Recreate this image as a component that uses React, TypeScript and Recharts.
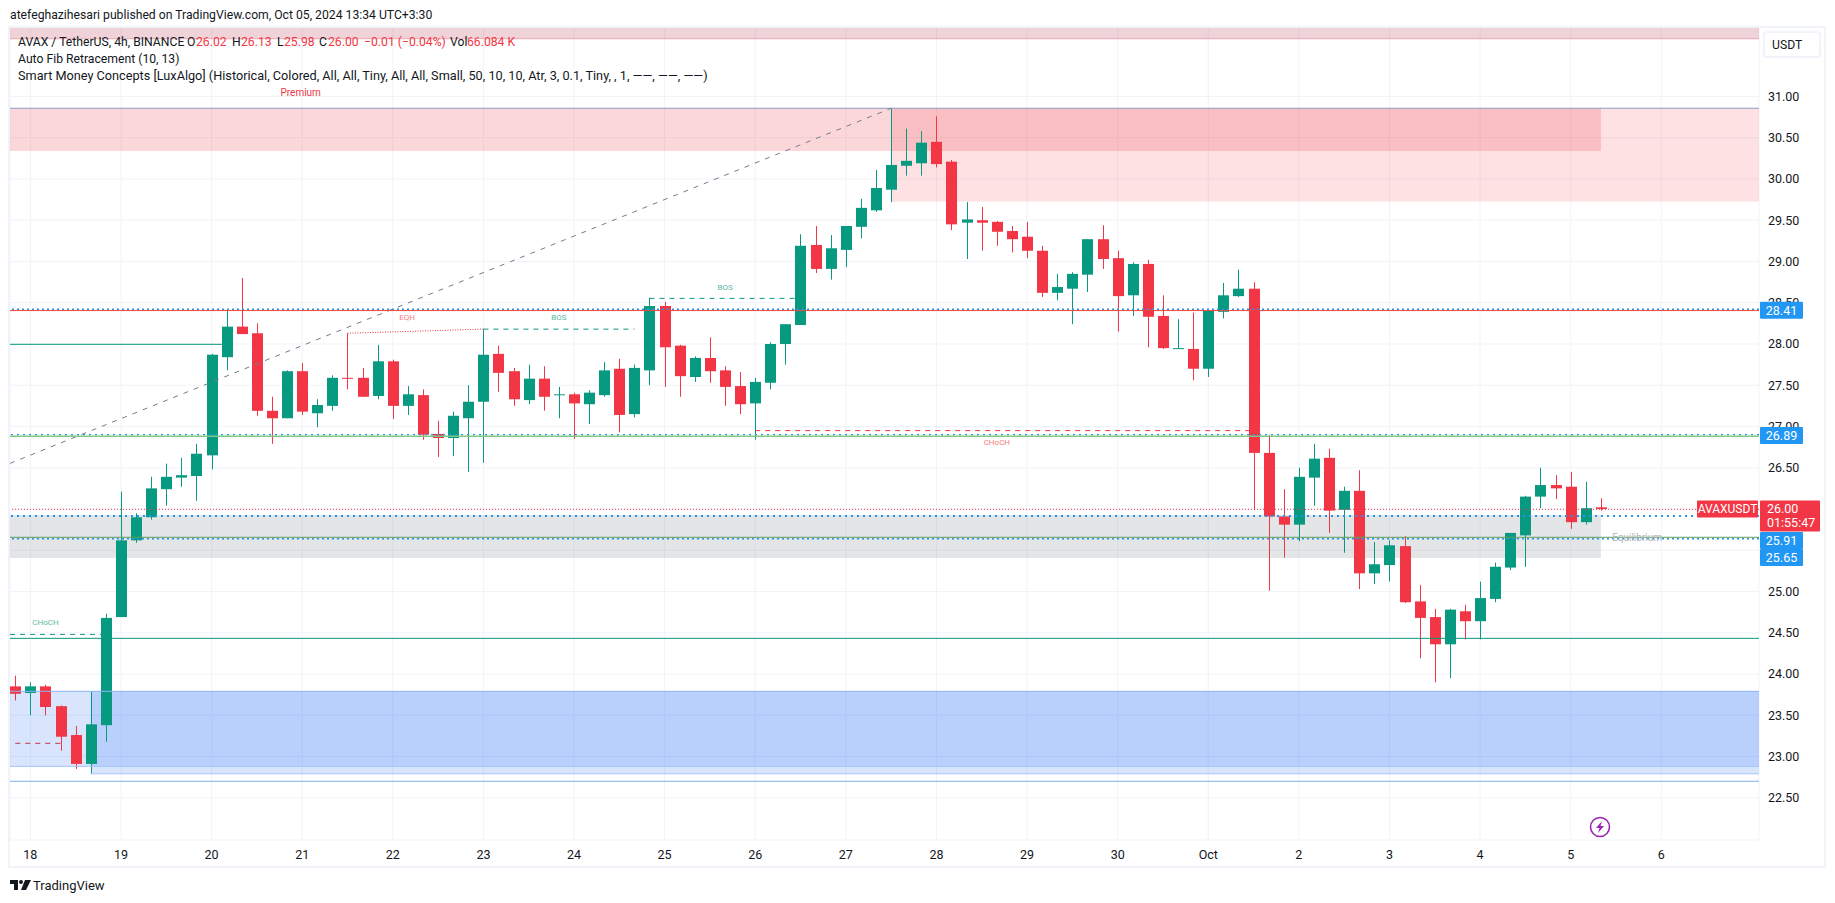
import {
  ComposedChart,
  Bar,
  XAxis,
  YAxis,
  CartesianGrid,
  ReferenceLine,
  ReferenceArea,
  ReferenceDot,
} from "recharts"

// one entry per 4h candle, the first one sits at bar -1 (17 Sep, 20:00)
const opens = [
  23.85, 23.77, 23.85, 23.61, 23.26, 22.91, 23.38, 24.69, 25.62, 25.9, 26.24, 26.38, 26.4, 26.65, 27.84, 28.21, 28.13, 27.19,
  27.1, 27.67, 27.16, 27.25, 27.59, 27.59, 27.37, 27.79, 27.25, 27.38, 26.91, 26.86, 27.1, 27.3, 27.88, 27.67, 27.32, 27.58,
  27.38, 27.39, 27.27, 27.38, 27.7, 27.15, 27.68, 28.46, 27.98, 27.6, 27.83, 27.68, 27.49, 27.28, 27.53, 28.0, 28.23, 29.2,
  28.91, 29.14, 29.42, 29.62, 29.87, 30.16, 30.19, 30.45, 30.21, 29.47, 29.5, 29.48, 29.37, 29.3, 29.13, 28.62, 28.67, 28.84,
  29.27, 29.04, 28.59, 28.97, 28.34, 27.94, 27.94, 27.7, 28.39, 28.58, 28.67, 26.68, 25.91, 25.81, 26.38, 26.62, 25.99, 26.22,
  25.22, 25.32, 25.55, 24.88, 24.69, 24.36, 24.76, 24.64, 24.91, 25.29, 25.68, 26.15, 26.29, 26.27, 25.84, 26.02,
]
const highs = [
  23.98, 23.9, 23.87, 23.62, 23.37, 23.79, 24.73, 26.21, 25.95, 26.39, 26.55, 26.62, 26.79, 27.88, 28.41, 28.8, 28.25, 27.36,
  27.68, 27.77, 27.33, 27.62, 28.13, 27.71, 27.99, 27.81, 27.49, 27.45, 27.07, 27.18, 27.5, 28.18, 27.98, 27.71, 27.75, 27.73,
  27.48, 27.41, 27.44, 27.78, 27.82, 27.75, 28.56, 28.51, 27.99, 27.85, 28.08, 27.73, 27.66, 27.59, 28.02, 28.24, 29.33, 29.43,
  29.32, 29.43, 29.76, 30.11, 30.86, 30.61, 30.58, 30.76, 30.23, 29.72, 29.66, 29.49, 29.43, 29.48, 29.19, 28.85, 28.87, 29.27,
  29.44, 29.13, 28.99, 29.02, 28.59, 28.3, 28.38, 28.41, 28.74, 28.9, 28.75, 26.9, 26.24, 26.5, 26.79, 26.73, 26.27, 26.47,
  25.6, 25.62, 25.67, 25.08, 24.79, 24.79, 24.84, 25.12, 25.35, 25.71, 26.16, 26.5, 26.41, 26.45, 26.33, 26.13,
]
const lows = [
  23.68, 23.5, 23.5, 23.07, 22.85, 22.79, 23.18, 24.69, 25.59, 25.87, 26.04, 26.27, 26.1, 26.48, 27.68, 28.12, 27.13, 26.79,
  27.1, 27.14, 26.99, 27.19, 27.45, 27.36, 27.33, 27.09, 27.14, 26.84, 26.63, 26.64, 26.45, 26.56, 27.42, 27.25, 27.27, 27.19,
  27.1, 26.85, 27.03, 27.36, 26.93, 27.11, 27.5, 27.48, 27.36, 27.54, 27.53, 27.25, 27.15, 26.84, 27.45, 27.75, 28.23, 28.86,
  28.78, 28.93, 29.28, 29.6, 29.72, 30.04, 30.04, 30.14, 29.38, 29.03, 29.13, 29.19, 29.11, 29.04, 28.57, 28.53, 28.24, 28.63,
  28.91, 28.15, 28.34, 27.96, 27.94, 27.94, 27.56, 27.6, 28.31, 28.57, 25.99, 25.01, 25.41, 25.61, 26.04, 25.71, 25.47, 25.03,
  25.09, 25.12, 24.86, 24.19, 23.9, 23.95, 24.42, 24.42, 24.87, 25.26, 25.3, 26.01, 26.12, 25.76, 25.81, 25.98,
]
const closes = [
  23.76, 23.85, 23.6, 23.24, 22.91, 23.39, 24.68, 25.62, 25.9, 26.25, 26.39, 26.41, 26.67, 27.87, 28.21, 28.12, 27.19, 27.1,
  27.67, 27.18, 27.26, 27.59, 27.58, 27.36, 27.79, 27.25, 27.39, 26.9, 26.86, 27.13, 27.3, 27.87, 27.65, 27.33, 27.58, 27.36,
  27.39, 27.28, 27.41, 27.68, 27.14, 27.71, 28.46, 27.96, 27.61, 27.83, 27.67, 27.48, 27.27, 27.54, 28.0, 28.24, 29.19, 28.91,
  29.16, 29.43, 29.65, 29.89, 30.17, 30.22, 30.44, 30.18, 29.45, 29.51, 29.47, 29.36, 29.27, 29.13, 28.62, 28.69, 28.85, 29.27,
  29.03, 28.58, 28.97, 28.33, 27.95, 27.95, 27.7, 28.4, 28.59, 28.67, 26.68, 25.91, 25.81, 26.39, 26.61, 25.98, 26.22, 25.22,
  25.33, 25.56, 24.87, 24.68, 24.36, 24.78, 24.64, 24.92, 25.3, 25.71, 26.15, 26.29, 26.25, 25.84, 26.01, 26.0,
]

const dayTicks = [0, 6, 12, 18, 24, 30, 36, 42, 48, 54, 60, 66, 72, 78, 84, 90, 96, 102, 108]
const dayLabels = ["18", "19", "20", "21", "22", "23", "24", "25", "26", "27", "28", "29", "30", "Oct", "2", "3", "4", "5", "6"]
const priceTicks = [22.5, 23, 23.5, 24, 24.5, 25, 25.5, 26, 26.5, 27, 27.5, 28, 28.5, 29, 29.5, 30, 30.5, 31]
// these two sit fully under the price tags in the original
const hiddenPriceLabels = [25.5, 26]

const candles = opens.map((open, i) => ({
  bar: i - 1,
  open,
  high: highs[i],
  low: lows[i],
  close: closes[i],
}))

const FONT = "Roboto, sans-serif"
const UP = "#089981"
const DOWN = "#f23645"
const BLUE = "#2196f3"
const X_MIN = -1.35
const X_MAX = 114.47
const Y_MIN = 21.988
const Y_MAX = 31.842
const BOX_END = 104

function Candle(props: any) {
  const { x, y, width, height, payload } = props
  const { open, high, low, close } = payload
  const perPrice = height / (high - low)
  const top = y + (high - Math.max(open, close)) * perPrice
  const bodyH = Math.max(Math.abs(open - close) * perPrice, 1)
  const color = close >= open ? UP : DOWN
  const mid = Math.round(x + width / 2)
  return (
    <g>
      <rect x={mid} y={y} width={1} height={height} fill={color} />
      <rect x={mid - 5} y={top} width={11} height={bodyH} fill={color} />
    </g>
  )
}

function PriceTag(props: any) {
  const { cx, cy, text, fill, dy = 0 } = props
  return (
    <g>
      <rect x={cx + 1} y={cy + dy - 8.5} width={43} height={17} rx={1} fill={fill} />
      <text x={cx + 22.5} y={cy + dy + 4.5} textAnchor="middle" fontSize={12.5} fontFamily={FONT} fill="#fff">
        {text}
      </text>
    </g>
  )
}

function LastPriceTag(props: any) {
  const { cx, cy } = props
  return (
    <g>
      <rect x={cx - 62} y={cy - 8.5} width={61} height={17} rx={1} fill={DOWN} />
      <text x={cx - 31.5} y={cy + 4.5} textAnchor="middle" fontSize={12} fontFamily={FONT} fill="#fff">
        AVAXUSDT
      </text>
      <rect x={cx + 1} y={cy - 8.5} width={60} height={31} rx={1} fill={DOWN} />
      <text x={cx + 8} y={cy + 4.5} fontSize={12.5} fontFamily={FONT} fill="#fff">
        26.00
      </text>
      <text x={cx + 8} y={cy + 18} fontSize={12.5} fontFamily={FONT} fill="#fff">
        01:55:47
      </text>
    </g>
  )
}

const note = (x: number, y: number, value: string, fill: string, fontSize = 8) => (
  <ReferenceDot
    x={x}
    y={y}
    r={0}
    stroke="none"
    fill="none"
    label={{ value, fill, fontSize, fontFamily: FONT, position: "center" }}
  />
)

const text = (left: number, top: number, value: string, color = "#131722", size = 12.2) => (
  <div
    style={{
      position: "absolute",
      left,
      top,
      fontFamily: FONT,
      fontSize: size,
      lineHeight: "16px",
      color,
      whiteSpace: "nowrap",
    }}
  >
    {value}
  </div>
)

export default function App() {
  return (
    <div style={{ position: "absolute", left: 0, top: 0, width: 1835, height: 903, background: "#fff", overflow: "hidden" }}>
      <ComposedChart
        width={1835}
        height={903}
        data={candles}
        margin={{ top: 27, right: 0, bottom: 0, left: 10 }}
        style={{ position: "absolute", left: 0, top: 0 }}
      >
        <CartesianGrid stroke="#f0f3fa" />
        <XAxis
          dataKey="bar"
          type="number"
          domain={[X_MIN, X_MAX]}
          allowDataOverflow
          ticks={dayTicks}
          tickFormatter={(v) => dayLabels[dayTicks.indexOf(v)]}
          height={63}
          axisLine={false}
          tickLine={false}
          interval={0}
          tick={{ fontSize: 12.5, fontFamily: FONT, fill: "#131722" }}
          tickMargin={4}
        />
        <YAxis
          orientation="right"
          type="number"
          domain={[Y_MIN, Y_MAX]}
          allowDataOverflow
          ticks={priceTicks}
          interval={0}
          tickFormatter={(v) => (hiddenPriceLabels.includes(v) ? "" : v.toFixed(2))}
          width={76}
          axisLine={false}
          tickLine={false}
          tick={{ fontSize: 12.5, fontFamily: FONT, fill: "#131722" }}
          tickMargin={3}
        />

        <ReferenceArea x1={X_MIN} x2={X_MAX} y1={31.7} y2={Y_MAX} fill="#b2243a" fillOpacity={0.2} stroke="none" />
        <ReferenceLine y={31.7} stroke="#eaa9b0" />
        <ReferenceArea x1={X_MIN} x2={BOX_END} y1={30.34} y2={30.857} fill={DOWN} fillOpacity={0.2} stroke="none" />
        <ReferenceArea x1={57} x2={X_MAX} y1={29.727} y2={30.857} fill={DOWN} fillOpacity={0.15} stroke="none" />
        <ReferenceLine y={30.857} stroke="#8f9bc4" strokeWidth={1.2} />
        <ReferenceArea x1={X_MIN} x2={BOX_END} y1={25.406} y2={25.927} fill="#787b86" fillOpacity={0.2} stroke="none" />
        <ReferenceArea x1={X_MIN} x2={X_MAX} y1={22.88} y2={23.79} fill="#3b7cf5" fillOpacity={0.2} stroke="none" />
        <ReferenceArea x1={4} x2={X_MAX} y1={22.79} y2={23.79} fill="#3b7cf5" fillOpacity={0.2} stroke="none" />
        <ReferenceLine y={23.79} stroke="#8fb4f5" />
        <ReferenceLine segment={[{ x: X_MIN, y: 22.88 }, { x: X_MAX, y: 22.88 }]} stroke="#a8c6fa" />
        <ReferenceLine segment={[{ x: 4, y: 22.79 }, { x: X_MAX, y: 22.79 }]} stroke="#a8c6fa" />

        <ReferenceLine segment={[{ x: X_MIN, y: 26.553 }, { x: 57, y: 30.857 }]} stroke="#787b86" strokeDasharray="5 6" />

        <ReferenceLine y={28.405} stroke="#f44336" />
        <ReferenceLine y={28.422} stroke={BLUE} strokeDasharray="2 3" strokeWidth={1.5} />
        <ReferenceLine y={26.882} stroke="#81c784" strokeWidth={1.5} />
        <ReferenceLine y={26.902} stroke={BLUE} strokeDasharray="2 4" strokeWidth={1.2} />
        <ReferenceLine y={25.996} stroke={DOWN} strokeDasharray="1 2" />
        <ReferenceLine y={25.915} stroke={BLUE} strokeDasharray="2 4" strokeWidth={2} />
        <ReferenceLine y={25.657} stroke="#5f9e5f" />
        <ReferenceLine y={25.64} stroke={BLUE} strokeDasharray="2 3" strokeWidth={1.5} />
        <ReferenceLine y={24.432} stroke={UP} />
        <ReferenceLine y={22.7} stroke="#7cb0e8" />
        <ReferenceLine segment={[{ x: X_MIN, y: 27.996 }, { x: 13, y: 27.996 }]} stroke={UP} />

        <ReferenceLine segment={[{ x: X_MIN, y: 24.48 }, { x: 5, y: 24.48 }]} stroke={UP} strokeDasharray="5 5" />
        <ReferenceLine segment={[{ x: -1, y: 23.16 }, { x: 2.3, y: 23.16 }]} stroke="#c2334f" strokeDasharray="5 5" />
        <ReferenceLine segment={[{ x: 21, y: 28.13 }, { x: 30, y: 28.18 }]} stroke={DOWN} strokeDasharray="1 1.5" />
        <ReferenceLine segment={[{ x: 30, y: 28.18 }, { x: 40, y: 28.18 }]} stroke={UP} strokeDasharray="5 5" />
        <ReferenceLine segment={[{ x: 41, y: 28.553 }, { x: 51, y: 28.553 }]} stroke={UP} strokeDasharray="5 5" />
        <ReferenceLine segment={[{ x: 48, y: 26.95 }, { x: 81, y: 26.95 }]} stroke={DOWN} strokeDasharray="5 5" />

        <Bar
          dataKey={(d: any) => [d.low, d.high]}
          barSize={11}
          shape={Candle}
          isAnimationActive={false}
        />

        {note(1, 24.63, "CHoCH", "#5cb8a5")}
        {note(24.95, 28.33, "EQH", "#f77c80")}
        {note(35, 28.33, "BOS", "#5cb8a5")}
        {note(46, 28.69, "BOS", "#5cb8a5")}
        {note(64, 26.81, "CHoCH", "#f77c80")}
        {note(17.9, 31.05, "Premium", DOWN, 10)}
        {note(106.4, 25.66, "Equilibrium", "#b2b5be", 10)}

        <ReferenceDot x={X_MAX} y={28.41} r={0} zIndex={2000} shape={(p: any) => <PriceTag {...p} text="28.41" fill={BLUE} />} />
        <ReferenceDot x={X_MAX} y={26.89} r={0} zIndex={2000} shape={(p: any) => <PriceTag {...p} text="26.89" fill={BLUE} />} />
        <ReferenceDot x={X_MAX} y={25.91} r={0} zIndex={2000} shape={(p: any) => <PriceTag {...p} text="25.91" fill={BLUE} dy={24} />} />
        <ReferenceDot x={X_MAX} y={25.65} r={0} zIndex={2000} shape={(p: any) => <PriceTag {...p} text="25.65" fill={BLUE} dy={19.6} />} />
        <ReferenceDot x={X_MAX} y={26} r={0} zIndex={2000} shape={LastPriceTag} />
      </ComposedChart>

      <div style={{ position: "absolute", left: 8, top: 26, width: 1814, height: 838, border: "2px solid #f0f3fa", pointerEvents: "none" }} />

      {text(10, 7, "atefeghazihesari published on TradingView.com, Oct 05, 2024 13:34 UTC+3:30")}
      {text(18, 34, "AVAX / TetherUS, 4h, BINANCE")}
      {text(187, 34, "O")}
      {text(196, 34, "26.02", DOWN)}
      {text(232, 34, "H")}
      {text(241, 34, "26.13", DOWN)}
      {text(277, 34, "L")}
      {text(284, 34, "25.98", DOWN)}
      {text(319, 34, "C")}
      {text(328, 34, "26.00", DOWN)}
      {text(364, 34, "−0.01 (−0.04%)", DOWN)}
      {text(450, 34, "Vol")}
      {text(467, 34, "66.084 K", DOWN)}
      {text(18, 51, "Auto Fib Retracement (10, 13)")}
      {text(18, 68, "Smart Money Concepts [LuxAlgo] (Historical, Colored, All, All, Tiny, All, All, Small, 50, 10, 10, Atr, 3, 0.1, Tiny, , 1, ——, ——, ——)", "#131722", 12.7)}

      <div style={{ position: "absolute", left: 1763, top: 31, width: 54, height: 23, border: "2px solid #f0f3fa", borderRadius: 4 }} />
      {text(1772, 37, "USDT")}

      <svg style={{ position: "absolute", left: 1589, top: 816 }} width={22} height={22}>
        <circle cx={11} cy={11} r={9.5} fill="none" stroke="#9c27b0" strokeWidth={1.6} />
        <path d="M13 5 L7 12 L10.5 12 L9 17 L15 10 L11.5 10 Z" fill="#9c27b0" />
      </svg>

      <svg style={{ position: "absolute", left: 10, top: 879 }} width={21} height={13}>
        <path d="M0 1 H8 V11 H4 V5 H0 Z" fill="#131722" />
        <circle cx={11} cy={3} r={2} fill="#131722" />
        <path d="M15 1 H21 L16 11 H11 Z" fill="#131722" />
      </svg>
      {text(33, 878, "TradingView", "#131722", 13)}
    </div>
  )
}
